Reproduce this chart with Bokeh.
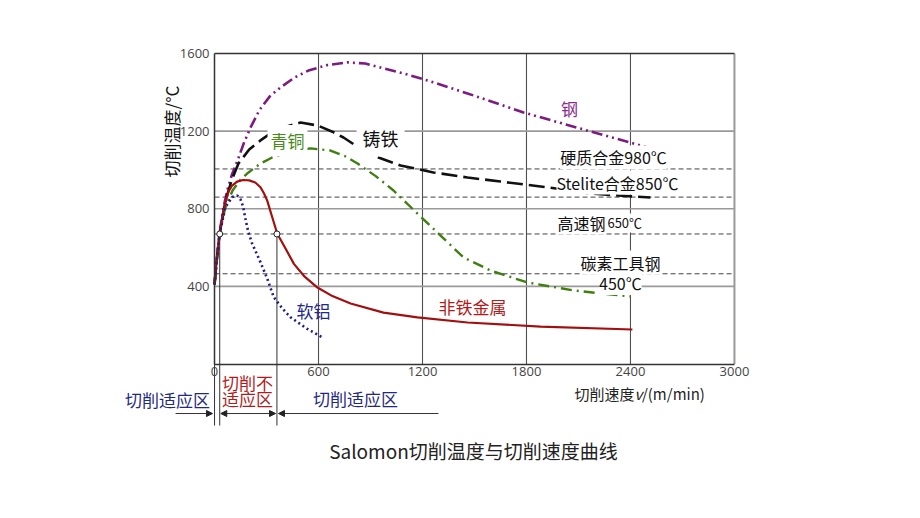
import math
from bokeh.plotting import figure
from bokeh.models import Range1d, FixedTicker, Label, Arrow, NormalHead
from bokeh.embed import file_html
from bokeh.resources import INLINE

# ---------------- data (cutting speed v in m/min, temperature in degC) ----------------
steel_v = [0, 12, 29, 50, 75, 100, 133, 170, 208, 260, 320, 381, 460, 542, 650, 767, 870, 975, 1100, 1229, 1460, 1783, 2111, 2498, 2544]
steel_t = [410, 530, 670, 800, 900, 975, 1049, 1140, 1219, 1310, 1380, 1425, 1475, 1512, 1540, 1554, 1548, 1523, 1495, 1461, 1394, 1296, 1213, 1116, 1100]

iron_v = [0, 12, 29, 63, 100, 138, 200, 265, 330, 398, 496, 594, 680, 744, 883, 1073, 1263, 1460, 1650, 1881, 2169, 2330, 2515]
iron_t = [410, 530, 670, 842, 950, 1033, 1105, 1152, 1192, 1219, 1244, 1229, 1197, 1167, 1085, 1023, 987, 961, 940, 915, 879, 868, 858]

bronze_v = [0, 12, 29, 60, 104, 150, 196, 265, 330, 398, 480, 554, 669, 750, 825, 930, 1033, 1171, 1304, 1437, 1592, 1806, 2071, 2400]
bronze_t = [410, 530, 670, 800, 894, 950, 987, 1033, 1063, 1085, 1102, 1111, 1100, 1072, 1033, 968, 894, 775, 662, 549, 482, 420, 379, 348]

nonfe_v = [0, 12, 29, 45, 63, 80, 100, 130, 165, 200, 235, 265, 285, 304, 333, 362, 400, 458, 520, 594, 680, 785, 975, 1171, 1460, 1881, 2411]
nonfe_t = [410, 530, 670, 760, 830, 888, 918, 940, 948, 946, 935, 911, 880, 842, 756, 671, 611, 516, 450, 394, 350, 312, 265, 240, 214, 193, 178]

alu_v = [0, 12, 29, 63, 102, 131, 150, 165, 180, 195, 215, 240, 265, 304, 342, 390, 438, 535, 621]
alu_t = [410, 530, 670, 808, 860, 868, 848, 810, 740, 680, 625, 575, 525, 440, 344, 288, 241, 181, 138]

x_ticks = [0, 600, 1200, 1800, 2400, 3000]
y_ticks = [400, 800, 1200, 1600]
limit_names = ["硬质合金980℃", "Stelite合金850℃", "高速钢650℃", "碳素工具钢450℃"]
limit_levels = [1005, 860, 670, 465]      # drawn level of each tool limit line
zone_bounds = [30, 360]                   # boundaries of the unsuitable cutting zone
zone_marker_t = [670, 670]

# ---------------- figure ----------------
X0, X1 = -658, 3208
Y0, Y1 = -497, 1641
p = figure(width=904, height=502, x_range=Range1d(X0, X1), y_range=Range1d(Y0, Y1),
           output_backend="svg", toolbar_location=None,
           min_border_left=100, min_border_right=134, min_border_top=45, min_border_bottom=42)
p.grid.visible = False
p.outline_line_color = None
p.background_fill_color = "white"
p.border_fill_color = "white"

CJK = "Noto Sans CJK SC"

# axes placed at the data origin
for ax in (p.xaxis[0], p.yaxis[0]):
    ax.fixed_location = 0
    ax.major_tick_in = 0
    ax.major_tick_out = 0
    ax.minor_tick_line_color = None
    ax.major_tick_line_color = None
    ax.axis_line_color = "#333333"
    ax.axis_line_width = 1.5
    ax.major_label_text_font = "Open Sans"
    ax.major_label_text_font_size = "13px"
    ax.major_label_text_color = "#444444"
p.xaxis[0].ticker = FixedTicker(ticks=x_ticks)
p.xaxis[0].bounds = (x_ticks[0], x_ticks[-1])
p.xaxis[0].major_label_standoff = 3
p.yaxis[0].ticker = FixedTicker(ticks=y_ticks)
p.yaxis[0].bounds = (0, y_ticks[-1])
p.yaxis[0].major_label_standoff = 5

xmax = x_ticks[-1]
ymax = y_ticks[-1]

# grid lines
p.segment(x0=x_ticks[1:-1], y0=0, x1=x_ticks[1:-1], y1=ymax, line_color="#505050", line_width=1.1)
p.segment(x0=[xmax], y0=0, x1=[xmax], y1=ymax, line_color="#999999", line_width=2)
p.segment(x0=0, y0=y_ticks[:-1], x1=xmax, y1=y_ticks[:-1], line_color="#9a9a9a", line_width=1.6)
p.segment(x0=0, y0=[ymax], x1=xmax, y1=[ymax], line_color="#333333", line_width=1.5)

# tool limit temperatures (dashed)
p.segment(x0=0, y0=limit_levels, x1=xmax, y1=limit_levels, line_color="#444444", line_width=1, line_dash="5 3")

# zone boundary lines extended below the axis
zone_bottom = -317
p.segment(x0=[0] + zone_bounds, y0=[0] + zone_marker_t, x1=[0] + zone_bounds, y1=zone_bottom,
          line_color="#333333", line_width=1)

# curves
p.line(steel_v, steel_t, line_color="#7d1c80", line_width=2.6, line_dash="11 4 2 4 2 4")
p.line(iron_v, iron_t, line_color="#111111", line_width=2.6, line_dash="16 6")
p.line(bronze_v, bronze_t, line_color="#3f7f0f", line_width=2.4, line_dash="11 5 2 5")
p.line(nonfe_v, nonfe_t, line_color="#a30f0f", line_width=2.2)
p.line(alu_v, alu_t, line_color="#1c1c8c", line_width=2.6, line_dash="2 3")

p.scatter(zone_bounds, zone_marker_t, size=6, fill_color="white", line_color="#222222", line_width=1)


def lab(x, y, text, color="#111111", size=17, bg=False, align="center", font=CJK, angle=0.0, pad=0, style="normal"):
    kw = {}
    if bg:
        kw = dict(background_fill_color="white", background_fill_alpha=1.0, padding=pad)
    p.add_layout(Label(x=x, y=y, text=text, text_color=color, text_font=font,
                       text_font_size=f"{size}px", text_align=align, text_baseline="middle",
                       text_font_style=style, angle=angle, **kw))


# curve labels
lab(2048, 1317, "钢", "#8a2b8c")
lab(958, 1167, "铸铁", "#111111", 18, bg=True, pad=6)
lab(421, 1152, "青铜", "#4a8a1c", 17, bg=True, pad=3)
lab(1488, 296, "非铁金属", "#b01c1c")
lab(571, 276, "软铝", "#1f2a8a")

# tool limit labels
lab(2302, 1064, limit_names[0], "#111111", 16, bg=True)
lab(2325, 935, limit_names[1], "#111111", 16, bg=True)
lab(1979, 729, "高速钢", "#111111", 16, bg=True, align="left")
lab(2267, 727, "650℃", "#111111", 13, bg=True, align="left")
lab(2342, 523, "碳素工具钢", "#111111", 16, bg=True)
lab(2342, 418, "450℃", "#111111", 16, bg=True)

# axis titles
lab(-248, 1198, "切削温度/°C", "#111111", 17, angle=math.pi / 2)
lab(2077, -152, "切削速度", "#222222", 15, align="left")
lab(2423, -152, "v", "#222222", 15, align="left", style="italic")
lab(2466, -152, "/(m/min)", "#222222", 15, align="left")

# zone annotations
lab(-271, -183, "切削适应区", "#1f2a80", 17)
lab(190, -95, "切削不", "#b01c1c", 17)
lab(190, -178, "适应区", "#b01c1c", 17)
lab(813, -178, "切削适应区", "#1f2a80", 17)

arrow_y = -255
def arr(xs, xe, both=False):
    head = lambda: NormalHead(size=6, fill_color="#222222", line_color="#222222", line_width=1)
    p.add_layout(Arrow(x_start=xs, y_start=arrow_y, x_end=xe, y_end=arrow_y,
                       end=head(), start=head() if both else None,
                       line_color="#333333", line_width=1))

arr(-225, -12)
arr(zone_bounds[0] + 6, zone_bounds[1] - 8, both=True)
arr(1292, zone_bounds[1] + 9)

# chart title (below)
lab(1494, -446, "Salomon切削温度与切削速度曲线", "#222222", 19)

open("out.html", "w").write(file_html(p, INLINE))
